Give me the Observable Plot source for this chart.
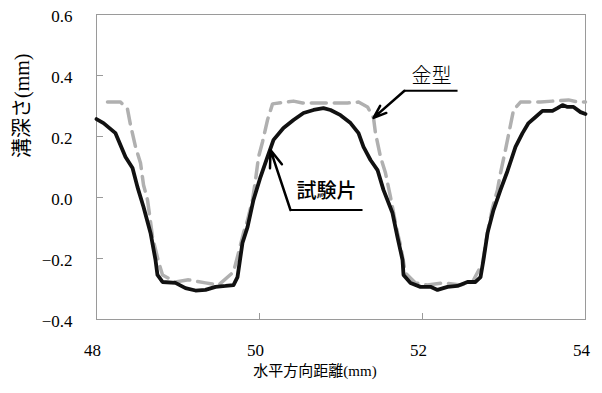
<!DOCTYPE html>
<html><head><meta charset="utf-8">
<script src="https://cdn.jsdelivr.net/npm/d3@7"></script>
<script src="https://cdn.jsdelivr.net/npm/@observablehq/plot@0.6"></script>
<style>body{margin:0;background:#fff}</style>
</head><body><div id="chart"></div>
<script>
const xTicks = [48, 50, 52, 54];
const yTicks = [-0.4, -0.2, 0, 0.2, 0.4, 0.6];
const xLabel = "水平方向距離(mm)";
const yLabel = "溝深さ(mm)";

// 試験片 (test piece)
const testX = [48.00,48.086,48.233,48.356,48.442,48.503,48.577,48.663,48.724,48.748,48.810,48.969,49.092,49.215,49.337,49.460,49.583,49.681,49.730,49.791,49.853,49.926,50.012,50.098,50.172,50.294,50.417,50.540,50.663,50.785,50.871,50.994,51.117,51.215,51.276,51.362,51.448,51.521,51.632,51.693,51.755,51.767,51.853,51.975,52.098,52.184,52.307,52.429,52.552,52.650,52.712,52.748,52.798,52.871,52.957,53.043,53.141,53.227,53.301,53.387,53.472,53.595,53.656,53.718,53.779,53.853,53.939,54.000];
const testY = [0.257,0.244,0.211,0.133,0.097,0.034,-0.031,-0.116,-0.205,-0.254,-0.277,-0.280,-0.297,-0.305,-0.303,-0.293,-0.290,-0.287,-0.261,-0.149,-0.097,-0.008,0.067,0.133,0.189,0.228,0.254,0.277,0.287,0.293,0.287,0.270,0.244,0.211,0.166,0.123,0.090,0.025,-0.051,-0.130,-0.205,-0.254,-0.280,-0.293,-0.293,-0.303,-0.293,-0.290,-0.277,-0.277,-0.261,-0.205,-0.116,-0.041,0.025,0.087,0.166,0.211,0.244,0.264,0.284,0.284,0.293,0.303,0.297,0.297,0.280,0.274];

// 金型 (mold)
const moldX = [48.135,48.294,48.380,48.417,48.479,48.540,48.577,48.626,48.663,48.687,48.761,48.810,48.969,49.129,49.337,49.497,49.681,49.742,49.804,49.853,49.914,49.951,49.988,50.037,50.098,50.160,50.417,50.528,50.748,50.871,51.080,51.215,51.325,51.399,51.423,51.485,51.546,51.607,51.693,51.730,51.791,51.914,52.061,52.258,52.466,52.613,52.736,52.810,52.859,52.920,52.957,53.018,53.117,53.202,53.448,53.595,53.791,53.902,54.000];
const moldY = [0.313,0.313,0.290,0.238,0.166,0.113,0.041,-0.008,-0.080,-0.129,-0.211,-0.254,-0.277,-0.270,-0.280,-0.287,-0.244,-0.182,-0.116,-0.074,-0.008,0.057,0.133,0.182,0.254,0.307,0.316,0.310,0.310,0.310,0.310,0.313,0.297,0.261,0.211,0.133,0.080,0.002,-0.116,-0.156,-0.248,-0.280,-0.287,-0.280,-0.287,-0.277,-0.215,-0.097,-0.034,0.025,0.080,0.156,0.287,0.313,0.313,0.316,0.320,0.313,0.313];

// annotations
const moldLabel = {text: "金型", x: 52.11, y: 0.398};
const moldLeader = [{x1: 52.43, y1: 0.350, x2: 51.779, y2: 0.350}];
const moldArrow = [{x1: 51.779, y1: 0.350, x2: 51.399, y2: 0.261}];
const testLabel = {text: "試験片", x: 50.822, y: 0.021};
const testLeader = [{x1: 51.264, y1: -0.041, x2: 50.380, y2: -0.041}];
const testArrow = [{x1: 50.380, y1: -0.041, x2: 50.135, y2: 0.156}];

const test = testX.map((x, i) => ({x, y: testY[i]}));
const mold = moldX.map((x, i) => ({x, y: moldY[i]}));

const serif = "'Liberation Serif', 'Noto Sans CJK JP', serif";
const cjk = "'Noto Sans CJK JP', sans-serif";

const chart = Plot.plot({
  width: 602, height: 393,
  marginLeft: 96, marginRight: 17, marginTop: 14, marginBottom: 74,
  style: {fontFamily: serif, background: "#fff", color: "#000"},
  x: {domain: [48, 54]},
  y: {domain: [-0.4, 0.6]},
  marks: [
    Plot.frame({stroke: "#9a9a9a"}),
    // inward tick marks
    Plot.axisY({ticks: yTicks, tickSize: 7, dx: 7, tickFormat: () => "", label: null, stroke: "#9a9a9a"}),
    Plot.axisX({ticks: xTicks, tickSize: 6, dy: -6, tickFormat: () => "", label: null, stroke: "#9a9a9a"}),
    // tick labels
    Plot.axisY({ticks: yTicks, tickSize: 0, tickPadding: 24, tickFormat: d3.format(".1f"), label: null, fontSize: 17, dy: 2, fill: "#000"}),
    Plot.axisX({ticks: xTicks, tickSize: 0, tickPadding: 24, tickFormat: d3.format("d"), label: null, fontSize: 17, dx: -4, fill: "#000"}),
    // axis titles
    Plot.text([xLabel], {text: d => d, frameAnchor: "bottom", dx: -26, dy: 56, fontSize: 15, fontFamily: serif}),
    Plot.text([yLabel], {text: d => d, frameAnchor: "left", rotate: -90, dx: -74, dy: -9, fontSize: 20, fontFamily: serif}),
    // data
    Plot.line(mold, {x: "x", y: "y", stroke: "#b0b0b0", strokeWidth: 3.5, strokeDasharray: "15,8"}),
    Plot.line(test, {x: "x", y: "y", stroke: "#111", strokeWidth: 3.8}),
    // annotations
    Plot.link(moldLeader, {x1: "x1", y1: "y1", x2: "x2", y2: "y2", stroke: "#000", strokeWidth: 2}),
    Plot.arrow(moldArrow, {x1: "x1", y1: "y1", x2: "x2", y2: "y2", stroke: "#000", strokeWidth: 2.5, headLength: 11, headAngle: 40}),
    Plot.text([moldLabel], {x: "x", y: "y", text: "text", fontSize: 20, fontFamily: cjk, fontWeight: 300}),
    Plot.link(testLeader, {x1: "x1", y1: "y1", x2: "x2", y2: "y2", stroke: "#000", strokeWidth: 2}),
    Plot.arrow(testArrow, {x1: "x1", y1: "y1", x2: "x2", y2: "y2", stroke: "#000", strokeWidth: 2.5, headLength: 11, headAngle: 40}),
    Plot.text([testLabel], {x: "x", y: "y", text: "text", fontSize: 20, fontFamily: cjk, fontWeight: 500})
  ]
});
document.getElementById("chart").appendChild(chart);
</script>
</body></html>
